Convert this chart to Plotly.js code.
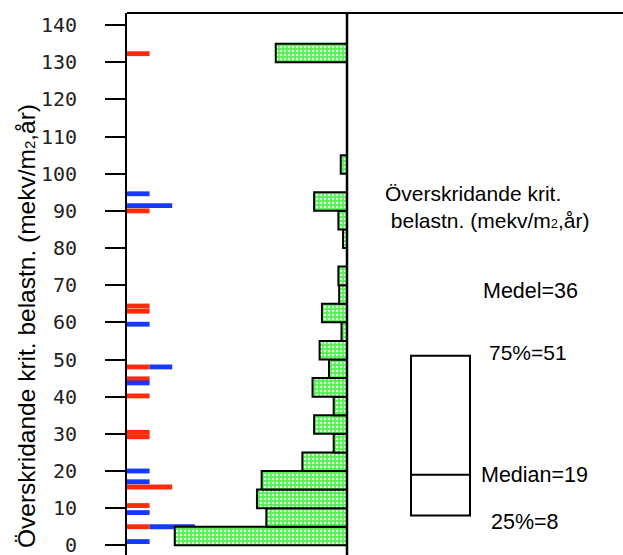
<!DOCTYPE html>
<html>
<head>
<meta charset="utf-8">
<script src="https://cdn.plot.ly/plotly-3.0.1.min.js"></script>
<style>
  html, body { margin: 0; padding: 0; background: #fff; }
  #chart { width: 623px; height: 555px; }
</style>
</head>
<body>
<div id="chart"></div>
<script>
// Exceedance of critical load (mekv/m2,år) for individual lakes, two groups
const redLoad   = [132.3, 90.0, 64.4, 63.0, 48.0, 44.8, 40.2, 30.4, 29.2, 15.7, 10.7, 5.0];
const redCount  = [1, 1, 1, 1, 1, 1, 1, 1, 1, 2, 1, 1];
const blueLoad  = [94.6, 91.4, 59.5, 48.0, 43.7, 20.0, 17.1, 8.8, 5.0, 1.0];
const blueCount = [1, 2, 1, 1, 1, 1, 1, 1, 2, 1];

// Distribution of the exceedance in 5-unit classes (share of lakes, %)
const binStart = [0, 5, 10, 15, 20, 25, 30, 35, 40, 45, 50, 55, 60, 65, 70, 75,
                  80, 85, 90, 95, 100, 105, 110, 115, 120, 125, 130];
const binShare = [22.0, 10.3, 11.5, 10.9, 5.7, 1.7, 4.2, 1.7, 4.4, 2.3, 3.5, 0.7,
                  3.2, 1.0, 1.1, 0, 0.5, 1.1, 4.2, 0, 0.8, 0, 0, 0, 0, 0, 9.1];
const binSize = 5;

// Summary statistics of the distribution
const statQ1 = 8;
const statMedian = 19;
const statQ3 = 51;
const statMean = 36;

const loadTicks = [0, 10, 20, 30, 40, 50, 60, 70, 80, 90, 100, 110, 120, 130, 140];

// blue marks continue where red marks at the same load end
const blueBase = blueLoad.map(v =>
  redLoad.reduce((s, r, i) => s + (r === v ? redCount[i] : 0), 0));

const W = 623, H = 555, ML = 127, MT = 13;
const PW = W - ML, PH = H - MT;
const split = 220 / PW;          // left panel / right panel boundary
const px = x => (x - ML) / PW;   // pixel -> paper x
const py = y => (H - y) / PH;    // pixel -> paper y

const sansFont = 'Liberation Sans, Arial, Helvetica, sans-serif';
const sub2 = s => `<span style="font-size:${s}px">2</span>`;

const traces = [
  {
    type: 'bar', orientation: 'h',
    y: binStart.map(b => b + binSize / 2), x: binShare,
    width: binSize, offset: -binSize / 2,
    xaxis: 'x2', yaxis: 'y',
    marker: {
      color: '#66ee66',
      line: { color: '#000', width: 2 },
      pattern: { shape: '.', fgcolor: '#dcffdc', bgcolor: '#55ee55', size: 4, solidity: 0.35, fillmode: 'replace' }
    }
  },
  {
    type: 'bar', orientation: 'h',
    y: redLoad, x: redCount, width: 1.3, offset: -0.65,
    xaxis: 'x', yaxis: 'y',
    marker: { color: '#ff2a0a', line: { width: 0 } }
  },
  {
    type: 'bar', orientation: 'h',
    y: blueLoad, x: blueCount, base: blueBase, width: 1.3, offset: -0.65,
    xaxis: 'x', yaxis: 'y',
    marker: { color: '#1638ff', line: { width: 0 } }
  },
  {
    type: 'box', xaxis: 'x3', yaxis: 'y',
    x: [93.5], q1: [statQ1], median: [statMedian], q3: [statQ3],
    lowerfence: [statQ1], upperfence: [statQ3],
    width: 59, whiskerwidth: 0, boxpoints: false,
    fillcolor: '#fff', line: { color: '#000', width: 2 }
  }
];

const layout = {
  width: W, height: H,
  margin: { l: ML, r: 0, t: MT, b: 0, pad: 0 },
  paper_bgcolor: '#fff', plot_bgcolor: '#fff',
  showlegend: false, hovermode: false, barmode: 'overlay',
  xaxis:  { domain: [0, split], range: [0, 220 / 22.6], visible: false, anchor: 'y' },
  xaxis2: { overlaying: 'x', range: [220 / 7.83, 0], visible: false, anchor: 'y' },
  xaxis3: { domain: [split, 1], range: [0, W - ML - 220], visible: false, anchor: 'y' },
  yaxis: {
    anchor: 'x', range: [-2.61, 143.25],
    tickmode: 'array', tickvals: loadTicks, ticktext: loadTicks.map(String),
    ticks: 'outside', ticklen: 20, tickwidth: 2, tickcolor: '#000',
    showline: true, linewidth: 2, linecolor: '#000',
    showgrid: false, zeroline: false,
    ticklabelstandoff: 24, ticklabeloverflow: 'allow',
    tickfont: { family: 'DejaVu Sans Mono, monospace', size: 20, color: '#222' }
  },
  shapes: [
    { type: 'line', xref: 'paper', yref: 'paper', x0: 0, x1: 1, y0: 1, y1: 1,
      line: { color: '#000', width: 2 } },
    { type: 'line', xref: 'paper', yref: 'paper', x0: split, x1: split, y0: 0, y1: 1,
      line: { color: '#000', width: 2.5 } }
  ],
  annotations: [
    { xref: 'paper', yref: 'paper', x: px(26), y: py(326), xanchor: 'center', yanchor: 'middle',
      textangle: -90, showarrow: false,
      text: `Överskridande krit. belastn. (mekv/m${sub2(15)},år)`,
      font: { family: sansFont, size: 24.5, color: '#000' } },
    { xref: 'paper', yref: 'paper', x: px(383), y: py(180), xanchor: 'left', yanchor: 'top',
      align: 'left', showarrow: false,
      text: `Överskridande krit.<br>\u00A0belastn. (mekv/m${sub2(13)},år)`,
      font: { family: sansFont, size: 21, color: '#000' } },
    { xref: 'paper', yref: 'paper', x: px(481), y: py(291), xanchor: 'left', yanchor: 'middle',
      showarrow: false, text: `Medel=${statMean}`,
      font: { family: sansFont, size: 21.5, color: '#000' } },
    { xref: 'paper', yref: 'paper', x: px(487), y: py(352), xanchor: 'left', yanchor: 'middle',
      showarrow: false, text: `75%=${statQ3}`,
      font: { family: sansFont, size: 21, color: '#000' } },
    { xref: 'paper', yref: 'paper', x: px(479), y: py(475), xanchor: 'left', yanchor: 'middle',
      showarrow: false, text: `Median=${statMedian}`,
      font: { family: sansFont, size: 21.5, color: '#000' } },
    { xref: 'paper', yref: 'paper', x: px(489), y: py(522), xanchor: 'left', yanchor: 'middle',
      showarrow: false, text: `25%=${statQ1}`,
      font: { family: sansFont, size: 21.5, color: '#000' } }
  ]
};

Plotly.newPlot('chart', traces, layout, { staticPlot: true, displayModeBar: false });
</script>
</body>
</html>
